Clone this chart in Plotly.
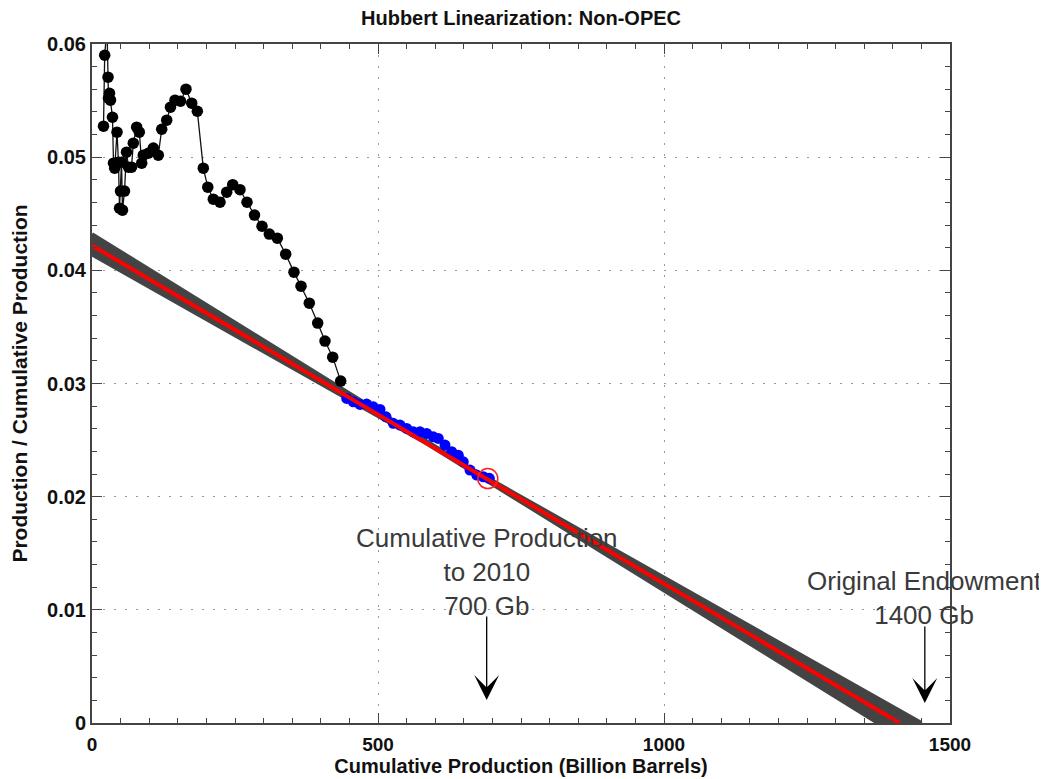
import numpy as np
import plotly.graph_objects as go

# ---------------- data ----------------
black_cum = [20.1, 22.2, 26.2, 28.0, 28.8, 30.6, 32.3, 35.8, 37.6, 39.7, 43.7, 46.3, 48.1,
             49.8, 51.6, 53.3, 56.8, 60.3, 63.8, 69.1, 72.2, 78.1, 82.7, 86.9, 89.7, 98.4,
             107.2, 115.9, 121.9, 130.6, 137.2, 145.1, 154.7, 164.3, 174.3, 184.1, 194.6,
             202.4, 212.1, 223.8, 235.5, 246.0, 258.7, 271.0, 284.1, 297.2, 310.0, 324.0,
             338.6, 353.1, 365.4, 379.9, 394.6, 407.3, 420.8, 434.8]
black_ratio = [0.05274, 0.05901, 0.0615, 0.05707, 0.05521, 0.05565, 0.05504, 0.05353, 0.04947,
               0.04903, 0.05221, 0.04956, 0.04549, 0.04700, 0.04956, 0.04532, 0.04700, 0.05044,
               0.04912, 0.04912, 0.05124, 0.05265, 0.05221, 0.04947, 0.05018, 0.05035, 0.05080,
               0.05018, 0.05247, 0.05327, 0.05442, 0.05504, 0.05495, 0.05601, 0.05477, 0.05406,
               0.04903, 0.04735, 0.04629, 0.04602, 0.04691, 0.04757, 0.04713, 0.04602, 0.04488,
               0.04390, 0.04320, 0.04284, 0.04143, 0.03984, 0.03860, 0.03710, 0.03534, 0.03375,
               0.03233, 0.03021]

blue_cum = [445.3, 456.8, 468.5, 480.2, 491.8, 503.5, 514.0, 526.7, 538.5, 550.2, 561.7, 573.4,
            585.1, 596.7, 605.4, 617.1, 628.8, 640.4, 649.1, 660.8, 672.6, 684.1, 694.6]
blue_ratio = [0.02868, 0.02838, 0.02815, 0.02818, 0.02794, 0.02771, 0.02706, 0.02648, 0.02633,
              0.02603, 0.02573, 0.02573, 0.02559, 0.02529, 0.02515, 0.02456, 0.02397, 0.02367,
              0.02308, 0.02235, 0.02191, 0.02176, 0.02162]

current_cum = [692]
current_ratio = [0.0216]

# regression fit (intercept, ultimate recovery) : best fit and uncertainty bounds
fit_intercept = 0.0422
fit_urr = 1412
band_intercepts = [0.0432, 0.0414]
band_urrs = [1374, 1450]

x_tickvals = [0, 500, 1000, 1500]
x_ticktext = ["0", "500", "1000", "1500"]
y_tickvals = [0, 0.01, 0.02, 0.03, 0.04, 0.05, 0.06]
y_ticktext = ["0", "0.01", "0.02", "0.03", "0.04", "0.05", "0.06"]

title_text = "Hubbert Linearization: Non-OPEC"
x_title = "Cumulative Production (Billion Barrels)"
y_title = "Production / Cumulative Production"

ann1_text = "Cumulative Production<br>to 2010<br>700 Gb"
ann1_pos = (690, 0.01330)
arrow1 = (690, 0.00954, 0.00203)
ann2_text = "Original Endowment<br>1400 Gb"
ann2_pos = (1456, 0.01105)
arrow2 = (1456, 0.00866, 0.00177)

# ---------------- figure ----------------
def line_y(x, a, u):
    return a * (1 - x / u)

xg = np.linspace(0, max(band_urrs), 400)
lA = np.clip(line_y(xg, band_intercepts[0], band_urrs[0]), 0, None)
lB = np.clip(line_y(xg, band_intercepts[1], band_urrs[1]), 0, None)
upper = np.maximum(lA, lB)
lower = np.minimum(lA, lB)

fig = go.Figure()
band_col = "#444444"
fig.add_trace(go.Scatter(x=np.concatenate([xg, xg[::-1]]), y=np.concatenate([upper, lower[::-1]]),
                         fill="toself", fillcolor=band_col, mode="lines",
                         line=dict(color=band_col, width=4), hoverinfo="skip", showlegend=False))

fig.add_trace(go.Scatter(x=blue_cum, y=blue_ratio, mode="markers",
                         marker=dict(color="#0000ff", size=11, line=dict(width=0)),
                         showlegend=False))

xr = np.linspace(0, fit_urr, 50)
fig.add_trace(go.Scatter(x=xr, y=line_y(xr, fit_intercept, fit_urr), mode="lines",
                         line=dict(color="#ff0000", width=4), showlegend=False))

fig.add_trace(go.Scatter(x=black_cum, y=black_ratio, mode="lines+markers",
                         line=dict(color="#111111", width=1.3),
                         marker=dict(color="#000000", size=11.5, line=dict(width=0)),
                         showlegend=False, cliponaxis=True))

fig.add_trace(go.Scatter(x=current_cum, y=current_ratio, mode="markers",
                         marker=dict(symbol="circle-open", color="#ff2020", size=20,
                                     line=dict(width=1.5)),
                         showlegend=False))

ann_font = dict(family="Liberation Sans, Arial, sans-serif", size=26, color="#3a3a3a")
fig.add_annotation(x=ann1_pos[0], y=ann1_pos[1], xref="x", yref="y", text=ann1_text,
                   showarrow=False, font=ann_font, align="center")
fig.add_annotation(x=ann2_pos[0], y=ann2_pos[1], xref="x", yref="y", text=ann2_text,
                   showarrow=False, font=ann_font, align="center")
for (ax_, y0, y1) in [arrow1, arrow2]:
    fig.add_annotation(x=ax_, y=y1, ax=ax_, ay=y0, xref="x", yref="y", axref="x", ayref="y",
                       text="", showarrow=True, arrowhead=3, arrowsize=3.2, arrowwidth=1.3,
                       arrowcolor="#000000")

axis_col = "#444444"
bold_font = "Liberation Sans, Arial, sans-serif"
# the page body adds an 8px offset, so the figure is sized and margined to compensate
fig.update_layout(
    width=1039, height=771,
    margin=dict(l=84, r=97, t=36, b=56, autoexpand=False),
    paper_bgcolor="white", plot_bgcolor="white",
    title=dict(text="<b>" + title_text + "</b>", x=0.5, xref="paper", y=1 - 10 / 771,
               yanchor="middle", xanchor="center",
               font=dict(family=bold_font, size=20, color="#111111")),
)
fig.update_xaxes(
    automargin=False,
    range=[0, 1500], tickvals=x_tickvals, ticktext=["<b>" + t + "</b>" for t in x_ticktext],
    ticks="inside", ticklen=10, tickwidth=1, tickcolor=axis_col,
    minor=dict(dtick=50, ticks="inside", ticklen=5, tickcolor=axis_col, showgrid=False),
    showline=True, linecolor=axis_col, linewidth=2, mirror="ticks",
    showgrid=True, gridcolor="#999999", griddash="2px,9px", gridwidth=1,
    zeroline=False, ticklabelstandoff=3,
    tickfont=dict(family=bold_font, size=19, color="#111111"),
    title=dict(text="<b>" + x_title + "</b>", standoff=4,
               font=dict(family=bold_font, size=20, color="#111111")),
)
fig.update_yaxes(
    automargin=False,
    range=[0, 0.06], tickvals=y_tickvals, ticktext=["<b>" + t + "</b>" for t in y_ticktext],
    ticks="inside", ticklen=10, tickwidth=1, tickcolor=axis_col,
    minor=dict(dtick=0.002, ticks="inside", ticklen=5, tickcolor=axis_col, showgrid=False),
    showline=True, linecolor=axis_col, linewidth=2, mirror="ticks",
    showgrid=True, gridcolor="#999999", griddash="2px,9px", gridwidth=1,
    zeroline=False,
    tickfont=dict(family=bold_font, size=20, color="#111111"),
    title=dict(text="<b>" + y_title + "</b>", standoff=14,
               font=dict(family=bold_font, size=21, color="#111111")),
)

fig.write_html("out.html")
